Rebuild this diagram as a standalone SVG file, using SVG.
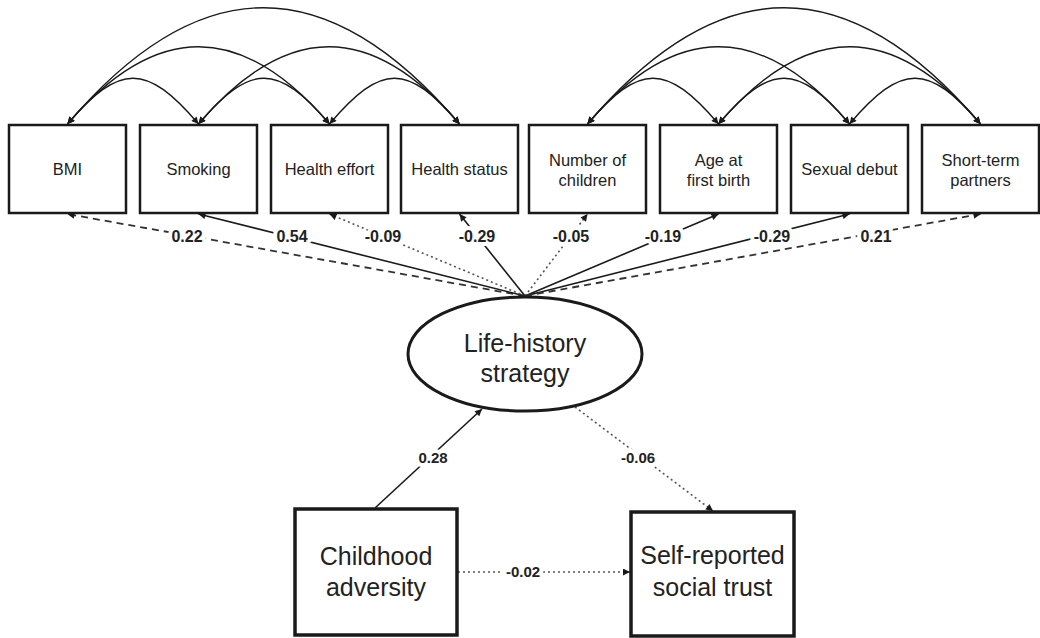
<svg xmlns="http://www.w3.org/2000/svg" width="1040" height="638" viewBox="0 0 1040 638">
<defs>
<marker id="ah" viewBox="0 0 10 10" refX="10" refY="5" markerUnits="userSpaceOnUse" markerWidth="8" markerHeight="7" orient="auto-start-reverse">
<path d="M0,0 L10,5 L0,10 z" fill="#1a1a1a"/>
</marker>
</defs>
<style>
.box{fill:#fff;stroke:#1a1a1a;stroke-width:2.5}
.bigbox{fill:#fff;stroke:#1a1a1a;stroke-width:3.5}
.t{font-family:"Liberation Sans",Arial,sans-serif;font-size:16.5px;fill:#222;text-anchor:middle}
.tb{font-family:"Liberation Sans",Arial,sans-serif;font-size:25px;fill:#222;text-anchor:middle}
.lab{font-family:"Liberation Sans",Arial,sans-serif;font-size:16px;font-weight:bold;fill:#222;text-anchor:middle;stroke:#fff;stroke-width:8;paint-order:stroke;stroke-linejoin:round}
.labs{font-size:15px}
.arc{fill:none;stroke:#1a1a1a;stroke-width:1.4;marker-start:url(#ah);marker-end:url(#ah)}
.solid{fill:none;stroke:#1a1a1a;stroke-width:1.6;marker-end:url(#ah)}
.dash{fill:none;stroke:#333;stroke-width:1.8;stroke-dasharray:7,5;marker-end:url(#ah)}
.dot{fill:none;stroke:#555;stroke-width:1.6;stroke-dasharray:2,3;marker-end:url(#ah)}
</style>
<rect width="1040" height="638" fill="#fff"/>
<g id="connectors">
<path class="arc" d="M67.5,124 C119.5,63 146.5,63 198.5,124"/>
<path class="arc" d="M198.5,124 C250.5,63 277.5,63 329.5,124"/>
<path class="arc" d="M329.5,124 C381.5,63 407.5,63 459.5,124"/>
<path class="arc" d="M67.5,124 C155.5,21 241.5,21 329.5,124"/>
<path class="arc" d="M198.5,124 C286.5,21 371.5,21 459.5,124"/>
<path class="arc" d="M67.5,124 C199.5,-31 327.5,-31 459.5,124"/>
<path class="arc" d="M587.5,124 C639.5,63 666.5,63 718.5,124"/>
<path class="arc" d="M718.5,124 C770.5,63 797.5,63 849.5,124"/>
<path class="arc" d="M849.5,124 C901.5,63 928.5,63 980.5,124"/>
<path class="arc" d="M587.5,124 C675.5,21 761.5,21 849.5,124"/>
<path class="arc" d="M718.5,124 C806.5,21 892.5,21 980.5,124"/>
<path class="arc" d="M587.5,124 C719.5,-31 848.5,-31 980.5,124"/>
<line class="dash" x1="525" y1="296" x2="67.5" y2="214"/>
<line class="solid" x1="525" y1="296" x2="198.5" y2="214"/>
<line class="dot" x1="525" y1="296" x2="329.5" y2="214"/>
<line class="solid" x1="525" y1="296" x2="459.5" y2="214"/>
<line class="dot" x1="525" y1="296" x2="587.5" y2="214"/>
<line class="solid" x1="525" y1="296" x2="718.5" y2="214"/>
<line class="solid" x1="525" y1="296" x2="849.5" y2="214"/>
<line class="dash" x1="525" y1="296" x2="980.5" y2="214"/>
<line class="solid" x1="375" y1="508" x2="482" y2="409"/>
<line class="dot" x1="575" y1="407" x2="713" y2="511"/>
<line class="dot" x1="458" y1="572" x2="630" y2="572"/>
<text class="lab" x="187" y="242">0.22</text>
<text class="lab" x="292" y="242">0.54</text>
<text class="lab" x="383" y="242">-0.09</text>
<text class="lab" x="477" y="242">-0.29</text>
<text class="lab" x="571" y="242">-0.05</text>
<text class="lab" x="663" y="242">-0.19</text>
<text class="lab" x="772" y="242">-0.29</text>
<text class="lab" x="876" y="242">0.21</text>
<text class="lab labs" x="433" y="463">0.28</text>
<text class="lab labs" x="638" y="463">-0.06</text>
<text class="lab labs" x="523" y="577">-0.02</text>
</g>
<g id="bmi"><rect class="box" x="9" y="125" width="117" height="88"/><text class="t" x="67.5" y="175">BMI</text></g>
<g id="smoking"><rect class="box" x="140" y="125" width="117" height="88"/><text class="t" x="198.5" y="175">Smoking</text></g>
<g id="health-effort"><rect class="box" x="271" y="125" width="117" height="88"/><text class="t" x="329.5" y="175">Health effort</text></g>
<g id="health-status"><rect class="box" x="401" y="125" width="117" height="88"/><text class="t" x="459.5" y="175">Health status</text></g>
<g id="number-of-children"><rect class="box" x="529" y="125" width="117" height="88"/><text class="t" x="587.5" y="166">Number of</text><text class="t" x="587.5" y="186">children</text></g>
<g id="age-first-birth"><rect class="box" x="660" y="125" width="117" height="88"/><text class="t" x="718.5" y="166">Age at</text><text class="t" x="718.5" y="186">first birth</text></g>
<g id="sexual-debut"><rect class="box" x="791" y="125" width="117" height="88"/><text class="t" x="849.5" y="175">Sexual debut</text></g>
<g id="short-term-partners"><rect class="box" x="922" y="125" width="117" height="88"/><text class="t" x="980.5" y="166">Short-term</text><text class="t" x="980.5" y="186">partners</text></g>
<g id="life-history"><ellipse cx="525" cy="354" rx="117" ry="57" fill="#fff" stroke="#1a1a1a" stroke-width="3"/><text class="tb" x="525" y="352">Life-history</text><text class="tb" x="525" y="382">strategy</text></g>
<g id="childhood-adversity"><rect class="bigbox" x="295" y="509" width="162" height="126"/><text class="tb" x="376" y="565">Childhood</text><text class="tb" x="376" y="596">adversity</text></g>
<g id="social-trust"><rect class="bigbox" x="631" y="512" width="163" height="124"/><text class="tb" x="712.5" y="564">Self-reported</text><text class="tb" x="712.5" y="596">social trust</text></g>
</svg>
